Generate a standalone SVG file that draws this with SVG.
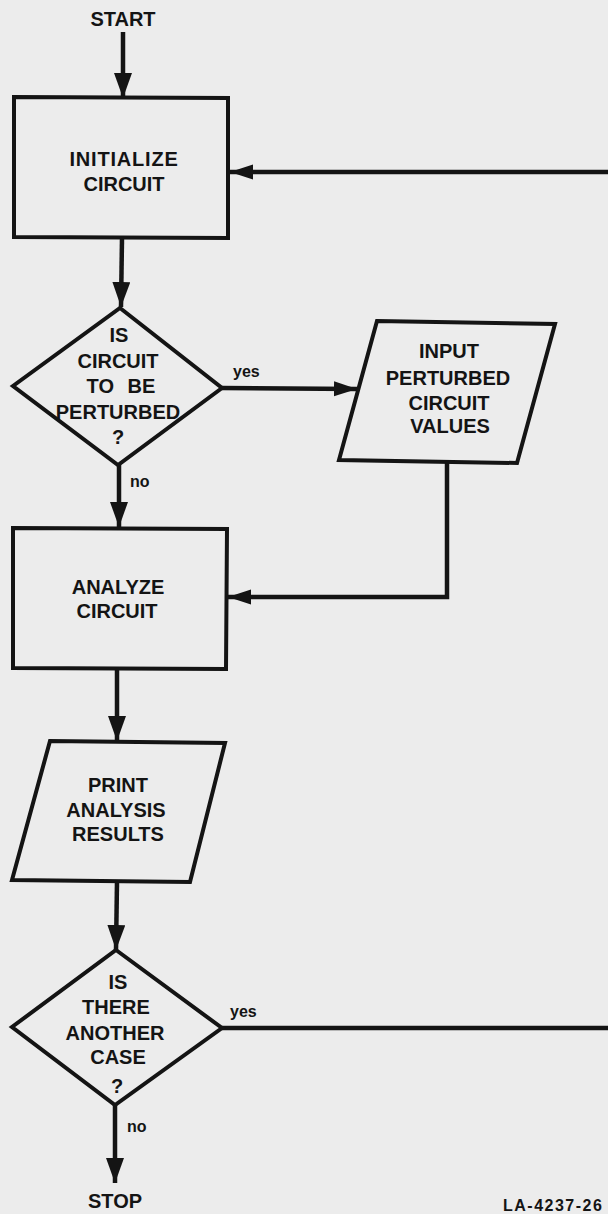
<svg xmlns="http://www.w3.org/2000/svg" width="608" height="1214" viewBox="0 0 608 1214">
  <defs>
    <style>
      .shape { fill: none; stroke: #141414; stroke-width: 4; stroke-linejoin: miter; }
      .wire { fill: none; stroke: #141414; stroke-width: 4.5; }
      .lbl { font-family: "Liberation Sans", Arial, sans-serif; font-weight: bold; font-size: 20px; fill: #141414; text-anchor: middle; }
      .small { font-family: "Liberation Sans", Arial, sans-serif; font-weight: bold; font-size: 16px; fill: #141414; }
      .fig { font-family: "Liberation Sans", Arial, sans-serif; font-weight: bold; font-size: 16px; letter-spacing: 1.5px; fill: #141414; text-anchor: start; }
      .head { fill: #141414; }
    </style>
    <!-- arrowhead for vertical flow -->
    <marker id="arrowV" markerUnits="userSpaceOnUse" markerWidth="26" markerHeight="20" refX="25" refY="9" orient="auto">
      <path class="head" d="M0,0 L25,9 L0,18 Z"/>
    </marker>
    <!-- slimmer arrowhead for horizontal returns -->
    <marker id="arrowH" markerUnits="userSpaceOnUse" markerWidth="24" markerHeight="16" refX="23" refY="7.5" orient="auto">
      <path class="head" d="M0,0 L23,7.5 L0,15 Z"/>
    </marker>
  </defs>

  <rect x="0" y="0" width="608" height="1214" fill="#ececec"/>

  <!-- connectors -->
  <g id="connectors">
    <line class="wire" x1="123" y1="32" x2="123" y2="98" marker-end="url(#arrowV)"/>
    <line class="wire" x1="608" y1="172" x2="230" y2="172" marker-end="url(#arrowH)"/>
    <line class="wire" x1="122" y1="238" x2="121" y2="307" marker-end="url(#arrowV)"/>
    <line class="wire" x1="222" y1="388" x2="357" y2="389" marker-end="url(#arrowH)"/>
    <polyline class="wire" points="447,462 447,597 228,597" marker-end="url(#arrowH)"/>
    <line class="wire" x1="119" y1="465" x2="119" y2="527" marker-end="url(#arrowV)"/>
    <line class="wire" x1="117" y1="669" x2="117" y2="741" marker-end="url(#arrowV)"/>
    <line class="wire" x1="117" y1="881" x2="116" y2="950" marker-end="url(#arrowV)"/>
    <line class="wire" x1="222" y1="1028" x2="608" y2="1028"/>
    <line class="wire" x1="115" y1="1105" x2="115" y2="1183" marker-end="url(#arrowV)"/>
    <text class="small" x="233" y="377">yes</text>
    <text class="small" x="130" y="487">no</text>
    <text class="small" x="230" y="1017">yes</text>
    <text class="small" x="127" y="1132">no</text>
  </g>

  <g id="start">
    <text class="lbl" x="123" y="26">START</text>
  </g>

  <g id="initialize">
    <polygon class="shape" points="14,97 228,98 228,238 14,237"/>
    <text class="lbl" x="124" y="166" letter-spacing="0.8">INITIALIZE</text>
    <text class="lbl" x="124" y="191">CIRCUIT</text>
  </g>

  <g id="perturb-decision">
    <polygon class="shape" points="120,308 222,388 118,465 13,386"/>
    <text class="lbl" x="119" y="342">IS</text>
    <text class="lbl" x="118" y="368">CIRCUIT</text>
    <text class="lbl" x="121" y="393" word-spacing="8">TO BE</text>
    <text class="lbl" x="118" y="419">PERTURBED</text>
    <text class="lbl" x="118" y="444">?</text>
  </g>

  <g id="input-values">
    <polygon class="shape" points="377,321 555,324 517,463 339,460"/>
    <text class="lbl" x="449" y="358">INPUT</text>
    <text class="lbl" x="448" y="385">PERTURBED</text>
    <text class="lbl" x="449" y="410">CIRCUIT</text>
    <text class="lbl" x="450" y="433">VALUES</text>
  </g>

  <g id="analyze">
    <polygon class="shape" points="13,528 227,529 226,669 13,668"/>
    <text class="lbl" x="118" y="594">ANALYZE</text>
    <text class="lbl" x="117" y="618">CIRCUIT</text>
  </g>

  <g id="print-results">
    <polygon class="shape" points="50,741 225,743 190,882 12,880"/>
    <text class="lbl" x="118" y="792">PRINT</text>
    <text class="lbl" x="116" y="817">ANALYSIS</text>
    <text class="lbl" x="118" y="841">RESULTS</text>
  </g>

  <g id="another-case">
    <polygon class="shape" points="116,950 222,1028 115,1105 12,1027"/>
    <text class="lbl" x="118" y="989">IS</text>
    <text class="lbl" x="116" y="1014">THERE</text>
    <text class="lbl" x="115" y="1040">ANOTHER</text>
    <text class="lbl" x="118" y="1064">CASE</text>
    <text class="lbl" x="117" y="1093">?</text>
  </g>

  <g id="stop">
    <text class="lbl" x="115" y="1208" font-size="18">STOP</text>
  </g>

  <g id="figure-number">
    <text class="fig" x="503" y="1211">LA-4237-26</text>
  </g>
</svg>
